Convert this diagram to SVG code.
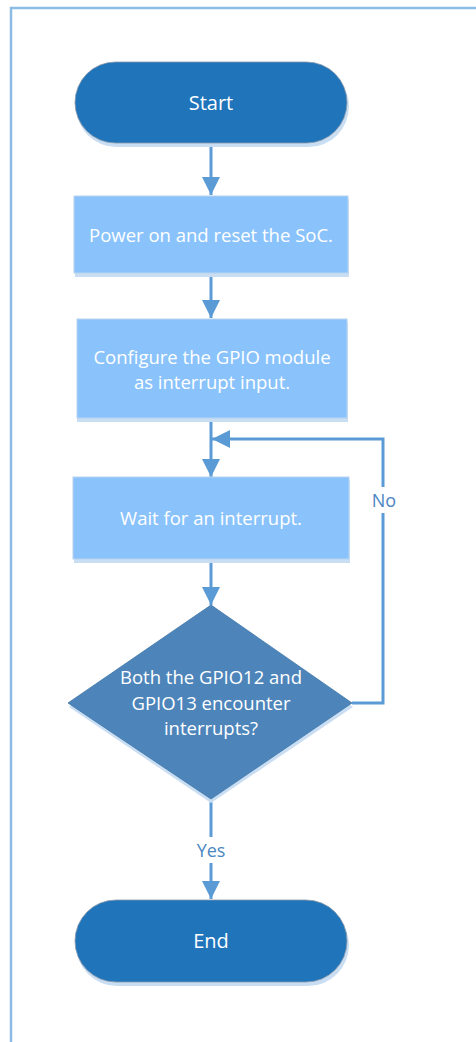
<svg xmlns="http://www.w3.org/2000/svg" width="476" height="1042" viewBox="0 0 476 1042">
  <style>
    text { font-family: "Open Sans", "Liberation Sans", sans-serif; text-anchor: middle; dominant-baseline: central; }
    .wt { fill: #ffffff; font-size: 18.5px; }
    .big { font-size: 20px; }
    .lbl { fill: #4a86c2; font-size: 18px; }
    .term { fill: #1f74ba; stroke: #8a98a8; stroke-width: 0.8; }
    .proc { fill: #8ac3fc; stroke: #b8d4ee; stroke-width: 1; }
    .dec { fill: #4d85ba; stroke: #3f76aa; stroke-width: 0.8; }
    .shadow { fill: #c9def2; }
    .conn { stroke: #5b9bd5; stroke-width: 3; fill: none; }
  </style>
  <defs>
    <marker id="arr" viewBox="0 0 18 18" refX="18" refY="9" markerWidth="18" markerHeight="18" markerUnits="userSpaceOnUse" orient="auto">
      <path d="M0,0 L18,9 L0,18 Z" fill="#5b9bd5"/>
    </marker>
  </defs>
  <rect width="476" height="1042" fill="#ffffff"/>
  <path d="M11,1042 V8 H476" fill="none" stroke="#8cbce4" stroke-width="2.5"/>

  <g id="connectors">
    <line class="conn" x1="211" y1="143" x2="211" y2="195" marker-end="url(#arr)"/>
    <line class="conn" x1="211" y1="274" x2="211" y2="318" marker-end="url(#arr)"/>
    <line class="conn" x1="211" y1="418" x2="211" y2="477" marker-end="url(#arr)"/>
    <line class="conn" x1="211" y1="560" x2="211" y2="605" marker-end="url(#arr)"/>
    <polyline class="conn" points="352,703 383,703 383,439 212,439" marker-end="url(#arr)"/>
    <line class="conn" x1="211" y1="799" x2="211" y2="899" marker-end="url(#arr)"/>
    <rect x="368" y="487" width="30" height="26" fill="#ffffff"/>
    <text class="lbl" x="384" y="500">No</text>
    <rect x="190" y="837" width="42" height="26" fill="#ffffff"/>
    <text class="lbl" x="211" y="850">Yes</text>
  </g>

  <g id="start">
    <rect class="shadow" x="76" y="66" width="273" height="81" rx="40.5"/>
    <rect class="term" x="75" y="62" width="272" height="81" rx="40.5"/>
    <text class="wt big" x="211" y="102">Start</text>
  </g>

  <g id="power-on">
    <rect class="shadow" x="75" y="199" width="274" height="78"/>
    <rect class="proc" x="74" y="196" width="274" height="77"/>
    <text class="wt" x="211" y="234">Power on and reset the SoC.</text>
  </g>

  <g id="configure">
    <rect class="shadow" x="77" y="322" width="271" height="100"/>
    <rect class="proc" x="77" y="319" width="270" height="99"/>
    <text class="wt" x="212" y="356">Configure the GPIO module</text>
    <text class="wt" x="212" y="381">as interrupt input.</text>
  </g>

  <g id="wait">
    <rect class="shadow" x="74" y="480" width="276" height="83"/>
    <rect class="proc" x="73" y="477" width="276" height="82"/>
    <text class="wt" x="211" y="517">Wait for an interrupt.</text>
  </g>

  <g id="decision">
    <polygon class="shadow" points="211,609 353,707 211,803 69,707"/>
    <polygon class="dec" points="211,605 352,703 211,799 68,703"/>
    <text class="wt" x="211" y="676">Both the GPIO12 and</text>
    <text class="wt" x="211" y="702">GPIO13 encounter</text>
    <text class="wt" x="211" y="727">interrupts?</text>
  </g>

  <g id="end">
    <rect class="shadow" x="76" y="904" width="273" height="82" rx="41"/>
    <rect class="term" x="75" y="900" width="272" height="82" rx="41"/>
    <text class="wt big" x="211" y="940">End</text>
  </g>
</svg>
